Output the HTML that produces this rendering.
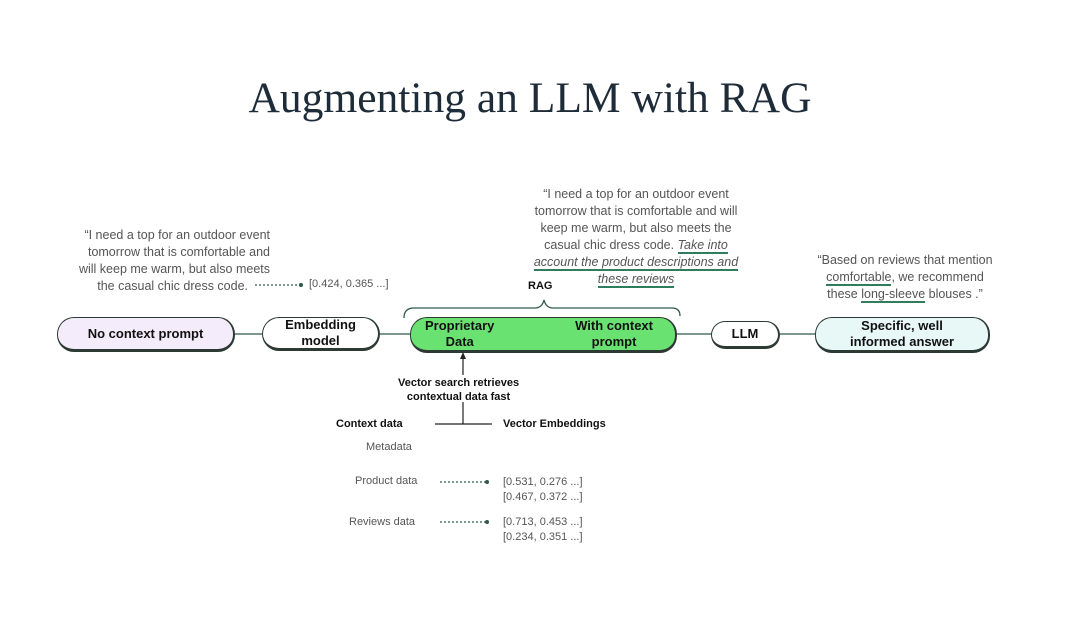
<!DOCTYPE html>
<html><head><meta charset="utf-8"><style>
body{margin:0;width:1080px;height:619px;background:#fff;position:relative;overflow:hidden;font-family:"Liberation Sans",sans-serif}
.a{position:absolute}
.t{color:#555;font-size:12.5px;line-height:17px;text-align:center;white-space:nowrap}
.p{position:absolute;box-sizing:border-box;border:1.5px solid #2d3a33;border-bottom-width:3px;border-right-width:2px;border-radius:17px;font-weight:bold;font-size:13px;color:#111;display:flex;align-items:center;justify-content:center;text-align:center;line-height:16px}
.b{font-weight:bold;font-size:11px;color:#111;white-space:nowrap}
.s{font-size:11px;color:#555;white-space:nowrap}
u{text-decoration:none;border-bottom:2px solid #2e7d5b}
</style></head><body>
<div class="a" style="left:0;width:1060px;top:73px;text-align:center;font-family:'Liberation Serif',serif;font-size:43.5px;color:#1e2b38">Augmenting an LLM with RAG</div>

<svg class="a" style="left:0;top:0" width="1080" height="619">
<g stroke="#2d5a47" stroke-width="1.3" fill="none">
<line x1="235" y1="334" x2="266" y2="334"/>
<line x1="380" y1="334" x2="414" y2="334"/>
<line x1="677" y1="334" x2="715" y2="334"/>
<line x1="780" y1="334" x2="818" y2="334"/>
<line x1="515" y1="334" x2="535" y2="334"/>
<path d="M404 318 Q404 308 414 308 L535 308 Q542 308 544 300 Q546 308 553 308 L672 308 Q680 308 680 316"/>
<line x1="255" y1="285" x2="300" y2="285" stroke-dasharray="2 2"/>
<line x1="440" y1="482" x2="486" y2="482" stroke-dasharray="2 2"/>
<line x1="440" y1="522" x2="486" y2="522" stroke-dasharray="2 2"/>
</g>
<g fill="#2d5a47"><circle cx="301" cy="285" r="2"/><circle cx="487" cy="482" r="2"/><circle cx="487" cy="522" r="2"/>
<circle cx="268" cy="335" r="2"/><circle cx="416" cy="335" r="2"/><circle cx="536" cy="335" r="2"/><circle cx="717" cy="335" r="2"/><circle cx="820" cy="335" r="2"/></g>
<g stroke="#222" stroke-width="1.2"><line x1="463" y1="358" x2="463" y2="375"/><line x1="463" y1="402" x2="463" y2="424"/><line x1="435" y1="424" x2="492" y2="424"/></g>
<path d="M460 359 L463 352 L466 359Z" fill="#222"/>
</svg>

<div class="p" style="left:57px;top:317px;width:178px;height:35px;background:#f4ecfa">No context prompt</div>
<div class="p" style="left:262px;top:317px;width:118px;height:34px;background:#fff">Embedding<br>model</div>
<div class="p" style="left:410px;top:317px;width:267px;height:36px;background:#6ae272;justify-content:space-between;padding:0 22px 0 14px"><span>Proprietary<br>Data</span><span>With context<br>prompt</span></div>
<div class="p" style="left:711px;top:321px;width:69px;height:28px;background:#fff">LLM</div>
<div class="p" style="left:815px;top:317px;width:175px;height:36px;background:#e8f8f6">Specific, well<br>informed answer</div>

<div class="a t" style="left:30px;top:227px;width:240px;text-align:right">“I need a top for an outdoor event<br>tomorrow that is comfortable and<br>will keep me warm, but also meets<br><span style="margin-right:22px">the casual chic dress code.</span></div>
<div class="a s" style="left:309px;top:278px">[0.424, 0.365 ...]</div>

<div class="a t" style="left:496px;top:186px;width:280px">“I need a top for an outdoor event<br>tomorrow that is comfortable and will<br>keep me warm, but also meets the<br>casual chic dress code. <i><u>Take into</u></i><br><i><u>account the product descriptions and</u></i><br><i><u>these reviews</u></i></div>
<div class="a b" style="left:528px;top:280px">RAG</div>

<div class="a t" style="left:790px;top:252px;width:230px">“Based on reviews that mention<br><u>comfortable</u>, we recommend<br>these <u>long-sleeve</u> blouses .”</div>

<div class="a b" style="left:398px;top:376px;text-align:center;line-height:14px">Vector search retrieves<br>contextual data fast</div>
<div class="a b" style="left:336px;top:418px">Context data</div>
<div class="a b" style="left:503px;top:418px">Vector Embeddings</div>
<div class="a s" style="left:366px;top:441px">Metadata</div>
<div class="a s" style="left:355px;top:475px">Product data</div>
<div class="a s" style="left:349px;top:516px">Reviews data</div>
<div class="a s" style="left:503px;top:475px;line-height:15px">[0.531, 0.276 ...]<br>[0.467, 0.372 ...]</div>
<div class="a s" style="left:503px;top:515px;line-height:15px">[0.713, 0.453 ...]<br>[0.234, 0.351 ...]</div>
</body></html>
